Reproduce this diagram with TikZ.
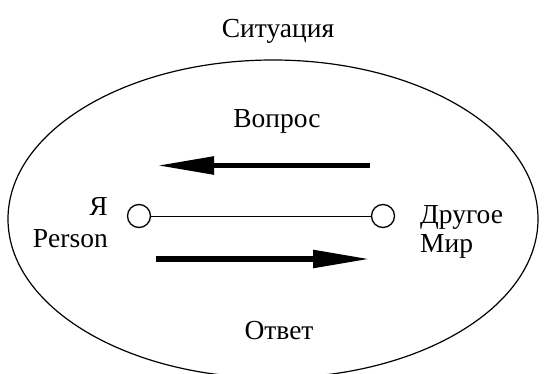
\documentclass[tikz,border=0pt]{standalone}
\usepackage{fontspec}
\setmainfont{Liberation Serif}
\usetikzlibrary{arrows.meta}
\begin{document}
\begin{tikzpicture}[x=1pt,y=1pt,
  lbl/.style={inner sep=0pt,font=\fontsize{27.5}{32}\selectfont},
  dot/.style={circle,draw,line width=1.3pt,minimum size=23pt,inner sep=0pt},
  bigarrow/.style={line width=5.5pt,-{Triangle[length=57pt,width=17pt]}}]
\useasboundingbox (0,0) rectangle (546,373);
\clip (0,0) rectangle (546,373);
\draw[line width=1.2pt] (273,154) ellipse [x radius=265, y radius=159];
\node[lbl,anchor=base] (title) at (278,335) {Ситуация};
\node[lbl,anchor=base] (q) at (277,246) {Вопрос};
\node[lbl,anchor=base] (a) at (279,34) {Ответ};
\node[dot] (me) at (139,157) {};
\node[dot] (other) at (383,157) {};
\draw[line width=1pt] (me) -- (other);
\node[lbl,anchor=base east] (ya) at (108,158) {Я};
\node[lbl,anchor=base east] (person) at (108,126) {Person};
\node[lbl,anchor=base west] (drug) at (420,150) {Другое};
\node[lbl,anchor=base west] (mir) at (420,121) {Мир};
\coordinate (q1) at (370,207.5);
\coordinate (q2) at (157,207.5);
\coordinate (a1) at (156,114);
\coordinate (a2) at (370,114);
\draw[bigarrow] (q1) -- (q2);
\draw[bigarrow] (a1) -- (a2);
\end{tikzpicture}
\end{document}
